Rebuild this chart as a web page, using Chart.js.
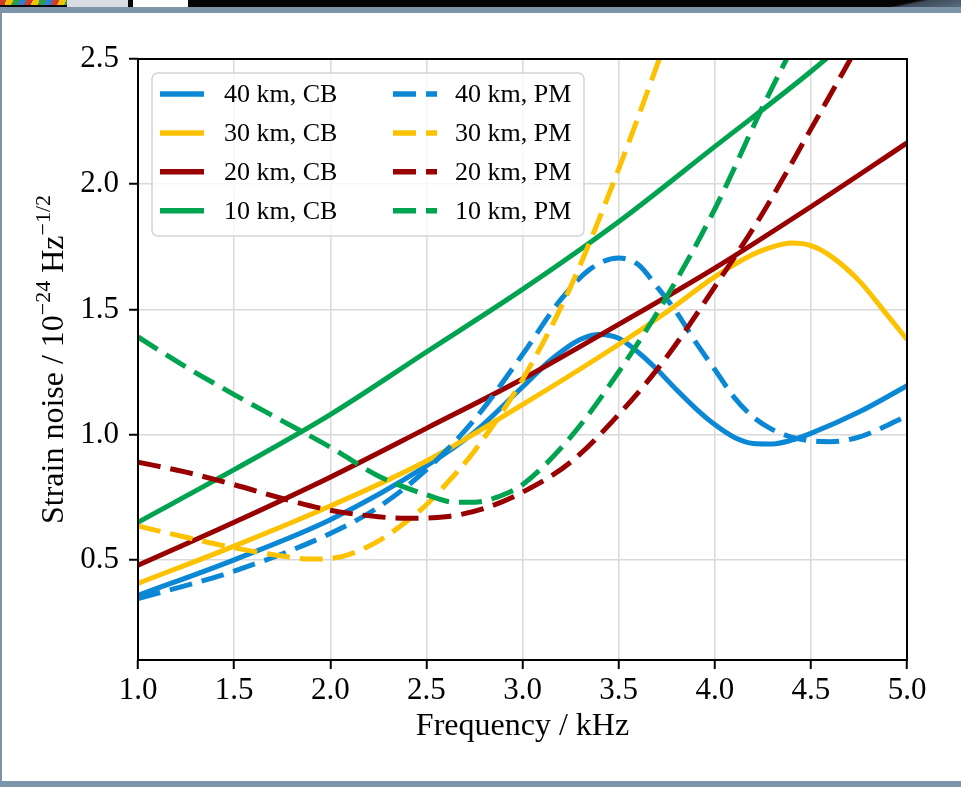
<!DOCTYPE html>
<html>
<head>
<meta charset="utf-8">
<title>Strain noise vs frequency</title>
<script src="https://cdn.jsdelivr.net/npm/chart.js@4.4.0/dist/chart.umd.min.js"></script>
<style>
  html, body { margin: 0; padding: 0; background: #fff; }
  #wrap { position: relative; width: 961px; height: 787px; overflow: hidden; }
  #plot { position: absolute; left: 0; top: 0; }
  .bar { position: absolute; }
</style>
</head>
<body>
<div id="wrap">
  <canvas id="plot" width="961" height="787"></canvas>
  <!-- window chrome around the figure -->
  <div class="bar" style="left:0;top:0;width:961px;height:7px;background:#050505"></div>
  <div class="bar" style="left:0;top:0;width:67px;height:5px;background:repeating-linear-gradient(115deg,#d23a2a 0 6px,#f2c200 6px 12px,#2e9c4c 12px 18px,#2f7fd0 18px 24px)"></div>
  <div class="bar" style="left:67px;top:0;width:61px;height:7px;background:#d9dde1"></div>
  <div class="bar" style="left:133px;top:0;width:55px;height:7px;background:#fff"></div>
  <div class="bar" style="left:880px;top:0;width:81px;height:7px;background:linear-gradient(168deg,#050505 35%,#3c4a58 45%,#5a6c7e 100%)"></div>
  <div class="bar" style="left:0;top:7px;width:961px;height:6px;background:#7d95aa"></div>
  <div class="bar" style="left:0;top:13px;width:2px;height:768px;background:#7d95aa"></div>
  <div class="bar" style="left:0;top:781px;width:961px;height:6px;background:#7d95aa"></div>
</div>
<script>
// axis ticks
const freqTicks = [1.0, 1.5, 2.0, 2.5, 3.0, 3.5, 4.0, 4.5, 5.0];
const noiseTicks = [0.5, 1.0, 1.5, 2.0, 2.5];

// continuous-band (CB) curves, frequency in kHz / noise in 1e-24 Hz^-1/2
const cb40Freq  = [1.0, 1.5, 2.0, 2.5, 2.75, 3.0, 3.15, 3.3, 3.4, 3.5, 3.6, 3.7, 3.8, 3.9, 4.0, 4.1, 4.2, 4.3, 4.4, 4.5, 4.75, 5.0];
const cb40Noise = [0.358, 0.50, 0.66, 0.875, 1.01, 1.19, 1.30, 1.38, 1.40, 1.385, 1.33, 1.26, 1.18, 1.105, 1.04, 0.99, 0.965, 0.963, 0.978, 1.005, 1.09, 1.195];

const cb30Freq  = [1.0, 1.5, 2.0, 2.5, 3.0, 3.5, 3.75, 4.0, 4.2, 4.3, 4.4, 4.5, 4.6, 4.75, 4.9, 5.0];
const cb30Noise = [0.406, 0.555, 0.715, 0.895, 1.12, 1.36, 1.49, 1.63, 1.72, 1.75, 1.765, 1.755, 1.715, 1.615, 1.475, 1.38];

const cb20Freq  = [1.0, 1.5, 2.0, 2.5, 3.0, 3.5, 4.0, 4.5, 5.0];
const cb20Noise = [0.478, 0.65, 0.83, 1.025, 1.222, 1.44, 1.665, 1.91, 2.165];

const cb10Freq  = [1.0, 1.5, 2.0, 2.5, 3.0, 3.5, 4.0, 4.5, 5.0];
const cb10Noise = [0.65, 0.86, 1.08, 1.33, 1.58, 1.85, 2.15, 2.45, 2.78];

// PM curves
const pm40Freq  = [1.0, 1.5, 2.0, 2.25, 2.5, 2.75, 3.0, 3.2, 3.35, 3.5, 3.6, 3.7, 3.8, 3.9, 4.0, 4.1, 4.2, 4.3, 4.4, 4.5, 4.6, 4.75, 5.0];
const pm40Noise = [0.345, 0.455, 0.605, 0.71, 0.86, 1.06, 1.32, 1.54, 1.66, 1.705, 1.68, 1.59, 1.49, 1.37, 1.26, 1.15, 1.07, 1.02, 0.99, 0.975, 0.972, 0.99, 1.075];

const pm30Freq  = [1.0, 1.25, 1.5, 1.75, 1.9, 2.0, 2.1, 2.25, 2.4, 2.5, 2.6, 2.75, 3.0, 3.25, 3.5, 3.75];
const pm30Noise = [0.635, 0.59, 0.548, 0.515, 0.503, 0.505, 0.522, 0.575, 0.655, 0.72, 0.80, 0.935, 1.22, 1.59, 2.06, 2.58];

const pm20Freq  = [1.0, 1.25, 1.5, 1.75, 2.0, 2.25, 2.4, 2.6, 2.8, 3.0, 3.25, 3.5, 3.75, 4.0, 4.25, 4.5, 4.75];
const pm20Noise = [0.89, 0.85, 0.80, 0.745, 0.698, 0.672, 0.666, 0.672, 0.705, 0.77, 0.89, 1.08, 1.31, 1.59, 1.885, 2.22, 2.56];

const pm10Freq  = [1.0, 1.25, 1.5, 1.75, 2.0, 2.25, 2.5, 2.65, 2.75, 2.9, 3.0, 3.25, 3.5, 3.75, 4.0, 4.25, 4.5];
const pm10Noise = [1.39, 1.27, 1.16, 1.055, 0.95, 0.835, 0.76, 0.73, 0.73, 0.76, 0.80, 0.99, 1.25, 1.55, 1.90, 2.31, 2.69];

const colours = { km40: '#0a87d5', km30: '#fcc200', km20: '#990000', km10: '#00a34f' };
const serif = '"Liberation Serif", "Times New Roman", serif';
const dashPattern = [23, 10];
const lineWidth = 5;

const series = [
  { label: '40 km, CB', f: cb40Freq, v: cb40Noise, colour: colours.km40, dashed: false },
  { label: '30 km, CB', f: cb30Freq, v: cb30Noise, colour: colours.km30, dashed: false },
  { label: '20 km, CB', f: cb20Freq, v: cb20Noise, colour: colours.km20, dashed: false },
  { label: '10 km, CB', f: cb10Freq, v: cb10Noise, colour: colours.km10, dashed: false },
  { label: '40 km, PM', f: pm40Freq, v: pm40Noise, colour: colours.km40, dashed: true },
  { label: '30 km, PM', f: pm30Freq, v: pm30Noise, colour: colours.km30, dashed: true },
  { label: '20 km, PM', f: pm20Freq, v: pm20Noise, colour: colours.km20, dashed: true },
  { label: '10 km, PM', f: pm10Freq, v: pm10Noise, colour: colours.km10, dashed: true }
];

const datasets = series.map((s, i) => ({
  label: s.label,
  data: s.f.map((f, j) => ({ x: f, y: s.v[j] })),
  borderColor: s.colour,
  borderDash: s.dashed ? dashPattern : [],
  borderWidth: lineWidth,
  pointRadius: 0,
  fill: false,
  clip: 0,
  cubicInterpolationMode: 'monotone',
  order: series.length - 1 - i // later curves on top
}));

// black box around the plot area
const frameBox = {
  id: 'frameBox',
  afterDatasetsDraw(chart) {
    const { ctx, chartArea: a } = chart;
    ctx.save();
    ctx.strokeStyle = '#000';
    ctx.lineWidth = 2;
    ctx.strokeRect(a.left, a.top, a.right - a.left, a.bottom - a.top);
    ctx.restore();
  }
};

// two-column legend inside the plot
const legendBox = {
  id: 'legendBox',
  afterDatasetsDraw(chart) {
    const ctx = chart.ctx;
    const box = { x: 152, y: 73, w: 432, h: 163, r: 6 };
    ctx.save();
    ctx.beginPath();
    ctx.moveTo(box.x + box.r, box.y);
    ctx.arcTo(box.x + box.w, box.y, box.x + box.w, box.y + box.h, box.r);
    ctx.arcTo(box.x + box.w, box.y + box.h, box.x, box.y + box.h, box.r);
    ctx.arcTo(box.x, box.y + box.h, box.x, box.y, box.r);
    ctx.arcTo(box.x, box.y, box.x + box.w, box.y, box.r);
    ctx.closePath();
    ctx.fillStyle = 'rgba(255,255,255,0.8)';
    ctx.fill();
    ctx.strokeStyle = '#d4d4d4';
    ctx.lineWidth = 1.5;
    ctx.stroke();

    const colX = [160, 393];
    const textX = [224, 455];
    const handleLen = 44;
    ctx.font = '26px ' + serif;
    ctx.textBaseline = 'middle';
    ctx.textAlign = 'left';
    series.forEach((s, i) => {
      const col = Math.floor(i / 4);
      const row = i % 4;
      const y = 94 + row * 38.9;
      ctx.beginPath();
      ctx.setLineDash(s.dashed ? dashPattern : []);
      ctx.strokeStyle = s.colour;
      ctx.lineWidth = lineWidth + 0.5;
      ctx.moveTo(colX[col], y);
      ctx.lineTo(colX[col] + handleLen, y);
      ctx.stroke();
      ctx.setLineDash([]);
      ctx.fillStyle = '#000';
      ctx.fillText(s.label, textX[col], y + 1);
    });
    ctx.restore();
  }
};

// rotated y title with superscripts
const yTitle = {
  id: 'yTitle',
  afterDraw(chart) {
    const ctx = chart.ctx;
    const a = chart.chartArea;
    const big = '32px ' + serif;
    const small = '22px ' + serif;
    const parts = [
      { t: 'Strain noise / 10', sup: false },
      { t: '\u221224', sup: true },
      { t: ' Hz', sup: false },
      { t: '\u22121/2', sup: true }
    ];
    ctx.save();
    ctx.translate(63, (a.top + a.bottom) / 2);
    ctx.rotate(-Math.PI / 2);
    ctx.textBaseline = 'alphabetic';
    ctx.textAlign = 'left';
    ctx.fillStyle = '#000';
    let total = 0;
    parts.forEach(p => { ctx.font = p.sup ? small : big; p.w = ctx.measureText(p.t).width; total += p.w; });
    let x = -total / 2;
    parts.forEach(p => {
      ctx.font = p.sup ? small : big;
      ctx.fillText(p.t, x, p.sup ? -13 : 0);
      x += p.w;
    });
    ctx.restore();
  }
};

const tickFont = { family: serif, size: 31 };
const gridColour = '#d9d9d9';

new Chart(document.getElementById('plot'), {
  type: 'line',
  data: { datasets },
  options: {
    responsive: false,
    animation: false,
    devicePixelRatio: 1,
    layout: { padding: { top: 59, right: 54, left: 0, bottom: 0 } },
    plugins: { legend: { display: false }, tooltip: { enabled: false } },
    scales: {
      x: {
        type: 'linear',
        min: 1,
        max: 5,
        afterBuildTicks: s => { s.ticks = freqTicks.map(v => ({ value: v })); },
        afterFit: s => { s.height = 127; },
        ticks: { font: tickFont, color: '#000', padding: 3, maxRotation: 0, autoSkip: false, callback: v => v.toFixed(1) },
        grid: { color: gridColour, lineWidth: 1.5, tickColor: '#000', tickLength: 9, tickWidth: 2 },
        border: { display: false },
        title: { display: true, text: 'Frequency / kHz', color: '#000', font: { family: serif, size: 32 }, padding: { top: 0, bottom: 41 } }
      },
      y: {
        type: 'linear',
        min: 0.1,
        max: 2.5,
        afterBuildTicks: s => { s.ticks = noiseTicks.map(v => ({ value: v })); },
        afterFit: s => { s.width = 138; },
        ticks: { font: tickFont, color: '#000', padding: 10, autoSkip: false, callback: v => v.toFixed(1) },
        grid: { color: gridColour, lineWidth: 1.5, tickColor: '#000', tickLength: 9, tickWidth: 2 },
        border: { display: false }
      }
    }
  },
  plugins: [frameBox, legendBox, yTitle]
});
</script>
</body>
</html>
